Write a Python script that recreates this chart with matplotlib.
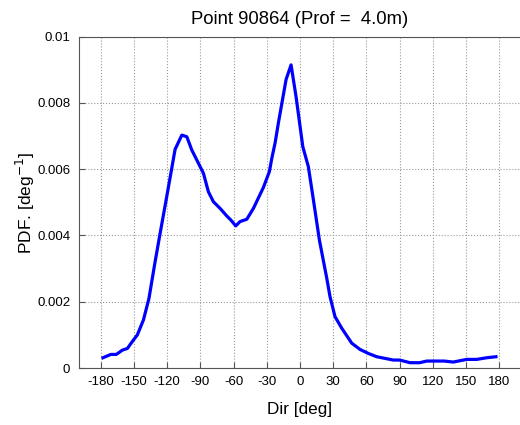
import matplotlib
matplotlib.use("Agg")
import matplotlib.pyplot as plt

plt.rcParams['font.family'] = ['Liberation Sans', 'DejaVu Sans']

direction = [-178, -171, -166, -160.5, -156, -151.5, -147, -141.5, -136.5, -131.5,
             -126.4, -121, -115.9, -112.9, -106.8, -102.3, -97.8, -93.3, -87.3, -82.8,
             -78.3, -72.3, -66.2, -62.6, -58.1, -54.2, -48.1, -42.1, -33.1, -27.7, -25.5,
             -22.5, -19.6, -12.6, -8.1, -3.6, 2.5, 7.5, 12.1, 17.5, 24.2, 27.1, 31.6,
             37.7, 46.7, 54.2, 61.7, 69.3, 84.3, 90, 99.4, 108, 114.5, 130, 138.5,
             150.6, 159.6, 168.7, 177]
pdf = [0.00031, 0.00041, 0.00041, 0.00054, 0.00059, 0.0008, 0.0010, 0.00145, 0.00210, 0.0031,
       0.00407, 0.00507, 0.00603, 0.00660, 0.00703, 0.00698, 0.00658, 0.00628, 0.00588, 0.00532,
       0.00502, 0.00482, 0.00459, 0.00447, 0.00429, 0.00442, 0.00449, 0.00482, 0.00545, 0.00593, 0.00633,
       0.00680, 0.00739, 0.00871, 0.00915, 0.00819, 0.00668, 0.00608, 0.00507, 0.00386, 0.0027, 0.00215, 0.00155,
       0.0012, 0.00075, 0.00056, 0.00044, 0.00034, 0.00024, 0.00024, 0.00016, 0.00016, 0.00021, 0.00021, 0.00018,
       0.00026, 0.00026, 0.00031, 0.00034]

xticks = [-180, -150, -120, -90, -60, -30, 0, 30, 60, 90, 120, 150, 180]
yticks = [0, 0.002, 0.004, 0.006, 0.008, 0.01]
yticklabels = ['0', '0.002', '0.004', '0.006', '0.008', '0.01']

fig = plt.figure(figsize=(5.2, 4.25), dpi=100)
ax = fig.add_axes([0.1513, 0.1341, 0.8514, 0.7795])
ax.plot(direction, pdf, color='#0000ff', linewidth=2.3)
ax.set_xlim(-200, 200)
ax.set_ylim(0, 0.01)
ax.set_xticks(xticks)
ax.set_xticklabels([str(t) for t in xticks], fontsize=9.5)
ax.set_yticks(yticks)
ax.set_yticklabels(yticklabels, fontsize=9.5)
ax.tick_params(direction='in', length=4, color='#555555', pad=6)
ax.grid(True, linestyle=':', color='#999999', linewidth=0.8)
for s in ax.spines.values():
    s.set_color('#555555')
ax.set_title('Point 90864 (Prof =  4.0m)', fontsize=13.3, pad=9)
ax.set_xlabel('Dir [deg]', fontsize=12.3, labelpad=10)
ax.set_ylabel('PDF. [deg$^{-1}$]', fontsize=12.5)
ax.yaxis.set_label_coords(-0.094, 0.5)
fig.savefig('out.png', dpi=100)
